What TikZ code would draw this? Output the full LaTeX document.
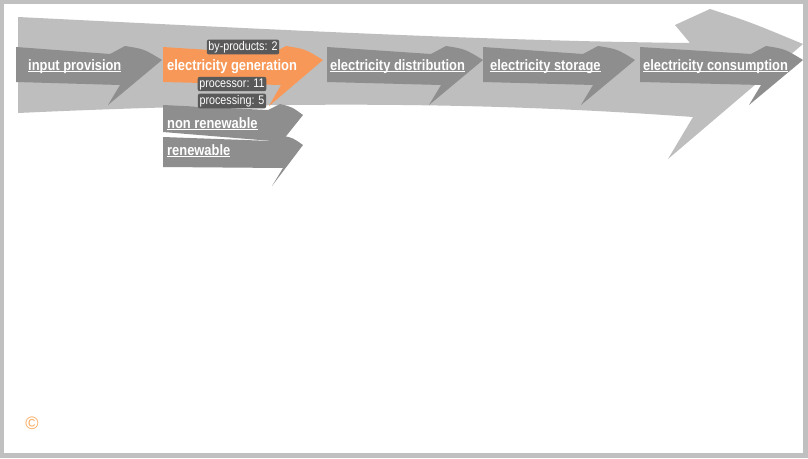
\documentclass[tikz,border=0pt]{standalone}
\usepackage{fontspec}
\setmainfont{Liberation Sans}
\newfontfamily\narrowfont[FakeStretch=0.86]{Liberation Sans}
\usepackage{tikz}

\definecolor{framegray}{RGB}{192,192,192}
\definecolor{flowgray}{RGB}{190,190,190}
\definecolor{stepgray}{RGB}{142,142,142}
\definecolor{genorange}{RGB}{247,152,88}
\definecolor{tagbg}{RGB}{89,89,89}
\definecolor{copyorange}{RGB}{249,168,90}

% underline close to the baseline
\newcommand\stepline[1]{\setbox0\hbox{#1}\rlap{\rule[-2.2pt]{\wd0}{0.9pt}}\box0}

\begin{document}
\begin{tikzpicture}[x=1pt, y=-1pt,
    steptext/.style = {text=white, font=\narrowfont\bfseries\fontsize{15}{17}\selectfont, inner sep=0pt, anchor=base west},
    tag/.style = {fill=tagbg, text=white, rounded corners=2pt, font=\narrowfont\fontsize{12.5}{14}\selectfont, inner sep=1.6pt}]
    \useasboundingbox (0,0) rectangle (808,458);
    \fill[framegray] (0,0) rectangle (808,458);
    \fill[white] (4,4) rectangle (803,453);

    % big flow arrow
    \fill[flowgray] (18,17) .. controls (300,31) and (500,41) .. (690,43) -- (675,25) -- (710,9)
        .. controls (750,22) .. (803,44) -- (668,159) -- (693,117)
        .. controls (500,103) and (300,100) .. (18,113) -- cycle;

    % step arrows
    \foreach \l/\t in {16/162, 327/483, 483/635, 640/803}
        \fill[stepgray] (\l,47) -- ({\t-52},54) -- ({\t-37},46) .. controls ({\t-18},49) .. (\t,60)
            -- ({\t-54},105) -- ({\t-42},85) -- (\l,82) -- cycle;
    \fill[genorange] (163,47) -- (271,54) -- (286,46) .. controls (305,49) .. (323,60)
        -- (269,106) -- (281,85) -- (163,82) -- cycle;
    \fill[stepgray] (163,105) -- (268,110) -- (280,104) .. controls (292,107) .. (303,115)
        -- (283,140) -- (272,141) -- (163,132) -- cycle;
    \fill[stepgray] (163,137) -- (272,141) -- (284,136) .. controls (293,138) .. (303,145)
        -- (272,186) -- (283,168) -- (163,167) -- cycle;

    \node[steptext] (inputprov) at (28,70) {\stepline{input provision}};
    \node[steptext] (elecgen) at (167,70) {electricity generation};
    \node[steptext] (elecdist) at (330,70) {\stepline{electricity distribution}};
    \node[steptext] (elecstor) at (490,70) {\stepline{electricity storage}};
    \node[steptext] (eleccons) at (643,70) {\stepline{electricity consumption}};
    \node[steptext] (nonrenew) at (167,128) {\stepline{non renewable}};
    \node[steptext] (renew) at (167,155) {\stepline{renewable}};

    \node[tag] (byprod) at (243,47) {by-products: 2};
    \node[tag] (processor) at (232,84) {processor: 11};
    \node[tag] (processing) at (232,101) {processing: 5};

    \node[text=copyorange, font=\fontsize{18}{20}\selectfont] (copyr) at (32,423) {©};
\end{tikzpicture}
\end{document}
